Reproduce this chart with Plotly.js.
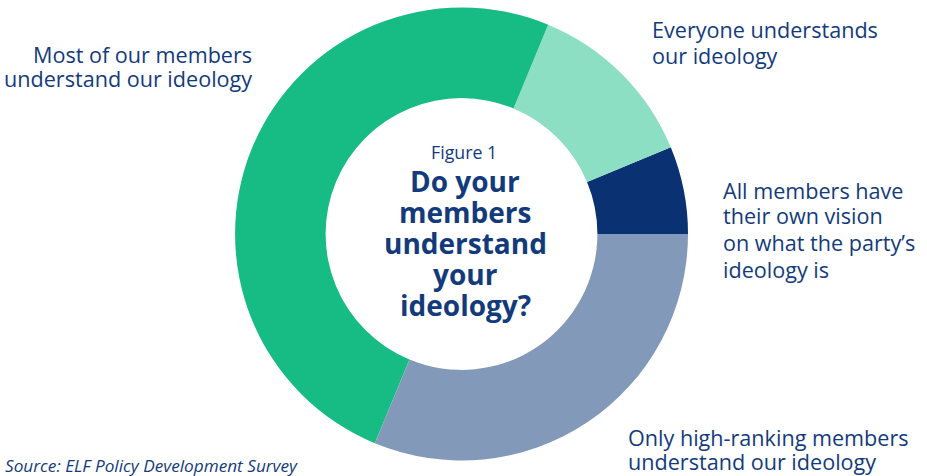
<!DOCTYPE html>
<html>
<head>
<meta charset="utf-8">
<script src="https://cdn.plot.ly/plotly-3.0.1.min.js"></script>
<style>html,body{margin:0;padding:0;background:#fff;}#chart{width:927px;height:476px;}</style>
</head>
<body>
<div id="chart"></div>
<script>
// Data (survey answers: 2 / 4 / 16 / 10 of 32)
var categories = [
  "All members have<br>their own vision<br>on what the party’s<br>ideology is",
  "Everyone understands<br>our ideology",
  "Most of our members<br>understand our ideology",
  "Only high-ranking members<br>understand our ideology"
];
var values = [2, 4, 16, 10];
var sliceColors = ["#0a3273", "#8ddfc3", "#16bc83", "#8399b9"];
var figureLabel = "Figure 1";
var questionLines = ["Do your", "members", "understand", "your", "ideology?"];
var sourceText = "Source: ELF Policy Development Survey";

var W = 927, H = 476;
function px(x){ return x / W; }
function py(y){ return 1 - y / H; }
var NAVY = "#133b7c";
var FONT = "'Open Sans', sans-serif";

var trace = {
  type: "pie",
  labels: categories,
  values: values,
  sort: false,
  direction: "counterclockwise",
  rotation: 67.5,
  hole: 0.6,
  textinfo: "none",
  hoverinfo: "label+value",
  marker: { colors: sliceColors, line: { width: 0 } },
  domain: { x: [px(235), px(688)], y: [py(460.5), py(7.5)] },
  showlegend: false
};

var annotations = [];
function addLines(text, x, ys, xanchor, font) {
  var lines = text.split("<br>");
  lines.forEach(function(t, i){
    annotations.push({
      xref: "paper", yref: "paper", x: px(x), y: py(ys[i]),
      xanchor: xanchor, yanchor: "middle", showarrow: false,
      text: t, font: font, align: xanchor === "right" ? "right" : "left"
    });
  });
}
var labFont = { family: FONT, size: 21.6, color: NAVY };
// label positions (layout only)
addLines(categories[0], 721, [190, 216, 243, 269], "left", labFont);
addLines(categories[1], 650, [29, 55], "left", labFont);
addLines(categories[2], 254, [54, 79], "right", labFont);
addLines(categories[3], 626, [437, 461], "left", labFont);

annotations.push({
  xref: "paper", yref: "paper", x: px(464), y: py(152),
  xanchor: "center", yanchor: "middle", showarrow: false,
  text: figureLabel, font: { family: FONT, size: 17.8, color: NAVY }
});
var qy = [181, 212, 243, 274, 305];
questionLines.forEach(function(t, i){
  annotations.push({
    xref: "paper", yref: "paper", x: px(465), y: py(qy[i]),
    xanchor: "center", yanchor: "middle", showarrow: false,
    text: t, font: { family: FONT, size: 28, color: NAVY, weight: 700 }
  });
});
annotations.push({
  xref: "paper", yref: "paper", x: px(3), y: py(465),
  xanchor: "left", yanchor: "middle", showarrow: false,
  text: sourceText, font: { family: FONT, size: 17.2, color: NAVY, style: "italic" }
});

var layout = {
  width: W, height: H,
  margin: { l: 0, r: 0, t: 0, b: 0 },
  paper_bgcolor: "#ffffff",
  plot_bgcolor: "#ffffff",
  showlegend: false,
  annotations: annotations
};
Plotly.newPlot("chart", [trace], layout, { displayModeBar: false, staticPlot: true });
</script>
</body>
</html>
